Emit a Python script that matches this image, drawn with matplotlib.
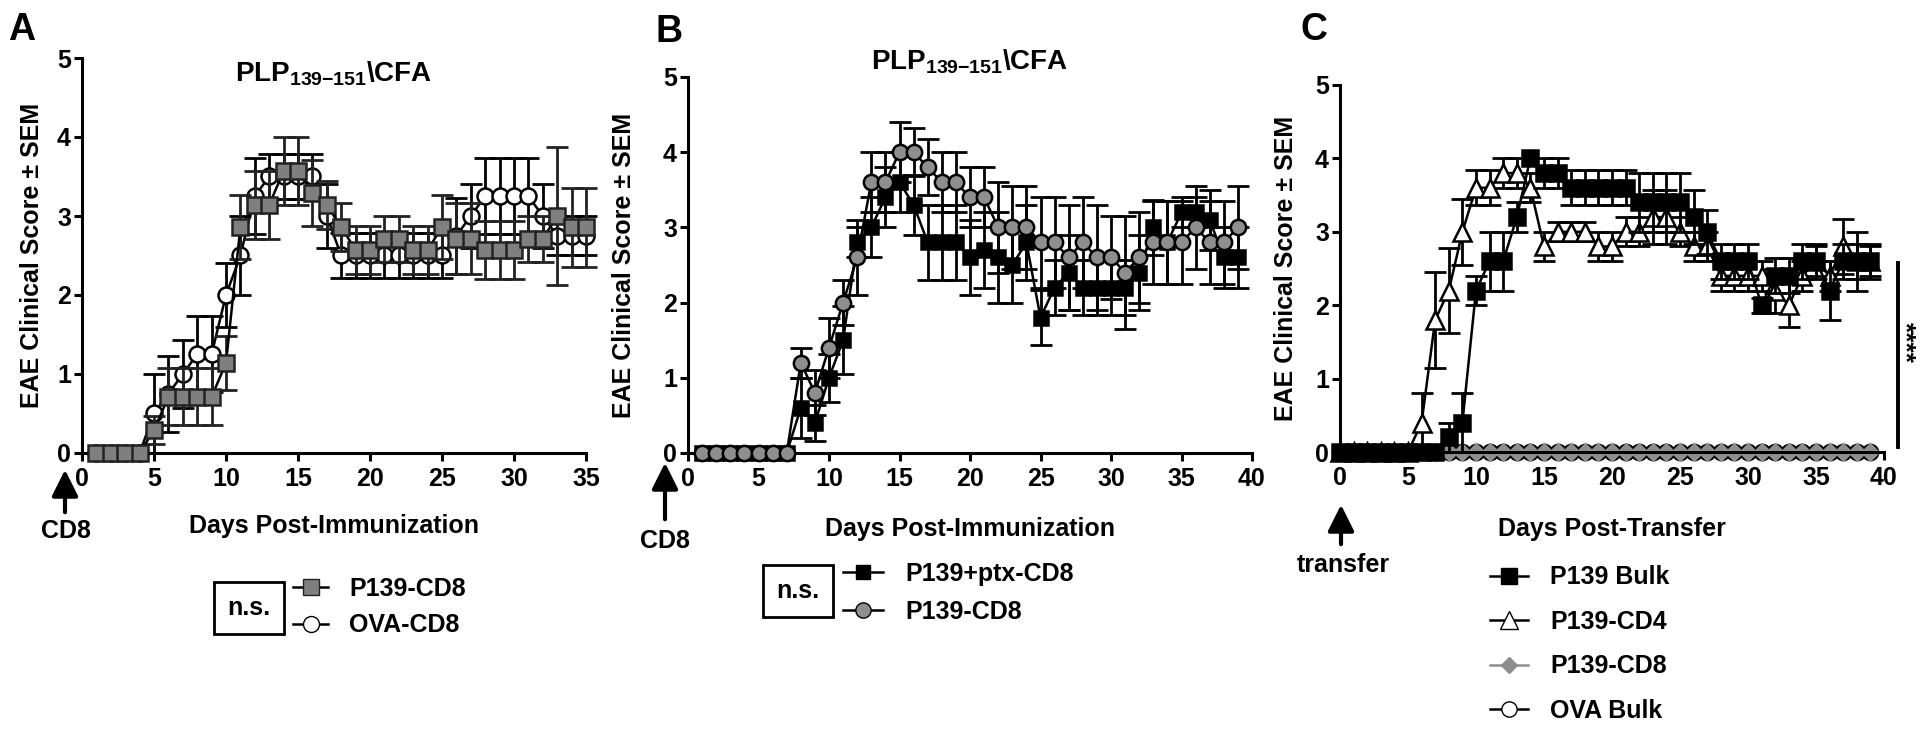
import matplotlib.pyplot as plt
from matplotlib.lines import Line2D

plt.rcParams['font.family'] = ['Liberation Sans', 'DejaVu Sans']
plt.rcParams['font.weight'] = 'bold'
plt.rcParams['axes.labelweight'] = 'bold'
plt.rcParams['mathtext.default'] = 'regular'

W, H = 1920, 738  # figure size in pixels

# ---------------- data ----------------
# panel A: PLP139-151/CFA, days 1-35
a_days = list(range(1, 36))
a_p139 = [0, 0, 0, 0, 0.29, 0.71, 0.71, 0.71, 0.71, 1.14, 2.86, 3.14, 3.14, 3.57, 3.57,
          3.29, 3.14, 2.86, 2.57, 2.57, 2.71, 2.71, 2.57, 2.57, 2.86, 2.71, 2.71, 2.57,
          2.57, 2.57, 2.71, 2.71, 3.0, 2.86, 2.86]
a_p139_sem = [0, 0, 0, 0, 0.18, 0.36, 0.36, 0.36, 0.36, 0.34, 0.4, 0.43, 0.43, 0.43, 0.43,
              0.42, 0.3, 0.3, 0.3, 0.3, 0.29, 0.29, 0.3, 0.3, 0.4, 0.45, 0.45, 0.37,
              0.37, 0.37, 0.29, 0.29, 0.87, 0.5, 0.5]
a_ova = [0, 0, 0, 0, 0.5, 0.75, 1.0, 1.25, 1.25, 2.0, 2.5, 3.25, 3.5, 3.5, 3.5, 3.5, 3.0,
         2.5, 2.5, 2.5, 2.5, 2.5, 2.5, 2.5, 2.5, 2.75, 3.0, 3.25, 3.25, 3.25, 3.25, 3.0,
         2.75, 2.75, 2.75]
a_ova_sem = [0, 0, 0, 0, 0.5, 0.48, 0.43, 0.48, 0.48, 0.41, 0.5, 0.48, 0.29, 0.29, 0.29,
             0.29, 0.41, 0.29, 0.29, 0.29, 0.29, 0.29, 0.29, 0.29, 0.29, 0.48, 0.41, 0.48,
             0.48, 0.48, 0.48, 0.41, 0.25, 0.25, 0.25]

# panel B: days 1-39
b_days = list(range(1, 40))
b_ptx = [0, 0, 0, 0, 0, 0, 0, 0.6, 0.4, 1.0, 1.5, 2.8, 3.0, 3.4, 3.6, 3.3, 2.8, 2.8, 2.8,
         2.6, 2.7, 2.6, 2.5, 2.8, 1.8, 2.2, 2.4, 2.2, 2.2, 2.2, 2.2, 2.4, 3.0, 2.8, 3.2,
         3.2, 3.1, 2.6, 2.6]
b_ptx_sem = [0, 0, 0, 0, 0, 0, 0, 0.4, 0.24, 0.32, 0.45, 0.2, 0.4, 0.4, 0.4, 0.4, 0.5,
             0.5, 0.5, 0.5, 0.5, 0.6, 0.5, 0.5, 0.37, 0.37, 0.5, 0.37, 0.37, 0.37, 0.37,
             0.5, 0.37, 0.55, 0.2, 0.2, 0.4, 0.4, 0.4]
b_p139 = [0, 0, 0, 0, 0, 0, 0, 1.2, 0.8, 1.4, 2.0, 2.6, 3.6, 3.6, 4.0, 4.0, 3.8, 3.6, 3.6,
          3.4, 3.4, 3.0, 3.0, 3.0, 2.8, 2.8, 2.6, 2.8, 2.6, 2.6, 2.4, 2.6, 2.8, 2.8, 2.8,
          3.0, 2.8, 2.8, 3.0]
b_p139_sem = [0, 0, 0, 0, 0, 0, 0, 0.2, 0.3, 0.4, 0.3, 0.5, 0.4, 0.4, 0.4, 0.32, 0.37,
              0.4, 0.4, 0.4, 0.4, 0.6, 0.55, 0.55, 0.6, 0.6, 0.7, 0.6, 0.7, 0.55, 0.75,
              0.6, 0.55, 0.55, 0.55, 0.55, 0.55, 0.55, 0.55]

# panel C: adoptive transfer, days 0-39
c_days = list(range(0, 40))
c_bulk = [0, 0, 0, 0, 0, 0, 0, 0, 0.2, 0.4, 2.2, 2.6, 2.6, 3.2, 4.0, 3.8, 3.8, 3.6, 3.6,
          3.6, 3.6, 3.6, 3.4, 3.4, 3.4, 3.4, 3.2, 3.0, 2.6, 2.6, 2.6, 2.0, 2.4, 2.4, 2.6,
          2.6, 2.2, 2.6, 2.6, 2.6]
c_bulk_sem = [0, 0, 0, 0, 0, 0, 0, 0, 0.2, 0.4, 0.2, 0.4, 0.4, 0.2, 0, 0.2, 0.2, 0.24,
              0.24, 0.24, 0.24, 0.24, 0.4, 0.4, 0.4, 0.4, 0.37, 0.3, 0.24, 0.24, 0.24,
              0.1, 0.24, 0.24, 0.24, 0.24, 0.4, 0.24, 0.24, 0.24]
c_cd4 = [0, 0, 0, 0, 0, 0, 0.4, 1.8, 2.2, 3.0, 3.6, 3.6, 3.8, 3.8, 3.6, 2.8, 3.0, 3.0,
         3.0, 2.8, 2.8, 3.0, 3.0, 3.2, 3.2, 3.0, 2.8, 2.8, 2.4, 2.4, 2.4, 2.4, 2.2, 2.0,
         2.4, 2.6, 2.4, 2.8, 2.6, 2.6]
c_cd4_sem = [0, 0, 0, 0, 0, 0, 0.4, 0.65, 0.58, 0.45, 0.24, 0.24, 0.2, 0.2, 0.2, 0.2,
             0.13, 0.13, 0.13, 0.2, 0.2, 0.2, 0.2, 0.37, 0.37, 0.2, 0.2, 0.2, 0.2, 0.2,
             0.2, 0.2, 0.3, 0.3, 0.2, 0.2, 0.2, 0.37, 0.4, 0.2]
c_cd8 = [0, 0, 0, 0, 0, 0, 0, 0, 0, 0, 0, 0, 0, 0, 0, 0, 0, 0, 0, 0,
         0, 0, 0, 0, 0, 0, 0, 0, 0, 0, 0, 0, 0, 0, 0, 0, 0, 0, 0, 0]
c_ova = [0, 0, 0, 0, 0, 0, 0, 0, 0, 0, 0, 0, 0, 0, 0, 0, 0, 0, 0, 0,
         0, 0, 0, 0, 0, 0, 0, 0, 0, 0, 0, 0, 0, 0, 0, 0, 0, 0, 0, 0]

GRAY = '#7f7f7f'
LGRAY = '#8e8e8e'
FS = 18


def fp(x, y):
    # pixel position measured from the top-left -> figure fraction
    return x / W, 1 - y / H


def style(ax, xmax):
    ax.set_xlim(0, xmax)
    ax.set_ylim(0, 5)
    ax.set_xticks(range(0, xmax + 1, 5))
    ax.set_yticks(range(0, 6))
    for s in ['top', 'right']:
        ax.spines[s].set_visible(False)
    for s in ['left', 'bottom']:
        ax.spines[s].set_linewidth(2.2)
    ax.tick_params(direction='out', length=6, width=2.2, labelsize=FS)
    ax.tick_params(axis='x', pad=4)
    ax.tick_params(axis='y', pad=2)
    ax.set_facecolor('none')
    ax.set_ylabel('EAE Clinical Score ± SEM', fontsize=FS, va='center')


def series(ax, x, y, e, marker, ms, mfc, mec='black', lc='black', z=3):
    xs = [a for a, s in zip(x, e) if s > 0]
    ys = [b for b, s in zip(y, e) if s > 0]
    es = [s for s in e if s > 0]
    if es:
        cont = ax.errorbar(xs, ys, yerr=es, fmt='none', ecolor=mec, elinewidth=2,
                           capsize=8, capthick=2, zorder=z - 0.5)
        for art in list(cont.lines[1]) + list(cont.lines[2]):
            art.set_clip_on(False)
    ax.plot(x, y, color=lc, lw=1.8, marker=marker, ms=ms, mfc=mfc, mec=mec, mew=1.8,
            zorder=z, clip_on=False)


def arrow(x, y_tip, y_base):
    fig.add_artist(plt.matplotlib.patches.FancyArrowPatch(
        fp(x, y_base), fp(x, y_tip), transform=fig.transFigure, arrowstyle='-|>',
        mutation_scale=40, lw=3, color='black'))


fig = plt.figure(figsize=(W / 100, H / 100), dpi=100)

# ---------------- panel A ----------------
axA = fig.add_axes([82 / W, 1 - 453 / H, 504 / W, 395 / H])
style(axA, 35)
series(axA, a_days, a_ova, a_ova_sem, 'o', 11.5, 'white', z=3)
series(axA, a_days, a_p139, a_p139_sem, 's', 12, GRAY, mec='#222222', z=4)
axA.yaxis.set_label_coords((32 - 82) / 504, 0.5)

# ---------------- panel B ----------------
axB = fig.add_axes([688 / W, 1 - 453 / H, 564 / W, 376 / H])
style(axB, 40)
series(axB, b_days, b_ptx, b_ptx_sem, 's', 10.5, 'black', z=3)
series(axB, b_days, b_p139, b_p139_sem, 'o', 11, LGRAY, z=4)
axB.yaxis.set_label_coords((624 - 688) / 564, 0.5)

# ---------------- panel C ----------------
axC = fig.add_axes([1340 / W, 1 - 452 / H, 544 / W, 367 / H])
style(axC, 40)
series(axC, c_days, c_ova, c_ova, 'o', 11, 'white', z=2)
series(axC, c_days, c_cd8, c_cd8, 'D', 8.5, LGRAY, mec=LGRAY, lc=LGRAY, z=2.5)
series(axC, c_days, c_cd4, c_cd4_sem, '^', 12.5, 'white', z=3)
series(axC, c_days, c_bulk, c_bulk_sem, 's', 11, 'black', z=4)
axC.yaxis.set_label_coords((1286 - 1340) / 544, 0.5)

# significance bar
axC.plot([41, 41], [0.07, 2.58], color='black', lw=2.8, clip_on=False)
fig.text(*fp(1905, 343), '****', rotation=270, ha='center', va='center', fontsize=19)

# ---------------- titles, labels, arrows ----------------
fig.text(*fp(8, 40), 'A', fontsize=27, va='baseline', ha='left')
fig.text(*fp(655, 42), 'B', fontsize=27, va='baseline', ha='left')
fig.text(*fp(1300, 40), 'C', fontsize=27, va='baseline', ha='left')

title = 'PLP$_{139{-}151}$\\CFA'
fig.text(*fp(334, 82), title, fontsize=20, ha='center', va='baseline')
fig.text(*fp(970, 70), title, fontsize=20, ha='center', va='baseline')

fig.text(*fp(334, 533), 'Days Post-Immunization', fontsize=FS, ha='center', va='baseline')
fig.text(*fp(970, 536), 'Days Post-Immunization', fontsize=FS, ha='center', va='baseline')
fig.text(*fp(1612, 536), 'Days Post-Transfer', fontsize=FS, ha='center', va='baseline')

arrow(65, 467, 515)
fig.text(*fp(66, 538), 'CD8', fontsize=FS, ha='center', va='baseline')
arrow(665, 460, 522)
fig.text(*fp(665, 548), 'CD8', fontsize=FS, ha='center', va='baseline')
arrow(1341, 502, 547)
fig.text(*fp(1343, 572), 'transfer', fontsize=FS, ha='center', va='baseline')

# ---------------- legends ----------------
box = dict(boxstyle='square,pad=0.55', fc='white', ec='black', lw=2)
fig.text(*fp(249, 608), 'n.s.', fontsize=FS, ha='center', va='center', bbox=box)
fig.text(*fp(798, 591), 'n.s.', fontsize=FS, ha='center', va='center', bbox=box)

hA = [Line2D([], [], color='black', lw=1.8, marker='s', ms=12, mfc=GRAY, mec='#222222'),
      Line2D([], [], color='black', lw=1.8, marker='o', ms=11.5, mfc='white', mec='black')]
axA.legend(hA, ['P139-CD8', 'OVA-CD8'], loc='center left', bbox_to_anchor=fp(293, 607),
           bbox_transform=fig.transFigure, frameon=False, fontsize=FS, handlelength=1.4,
           handletextpad=0.85, labelspacing=0.5, borderpad=0, borderaxespad=0)

hB = [Line2D([], [], color='black', lw=1.8, marker='s', ms=10.5, mfc='black', mec='black'),
      Line2D([], [], color='black', lw=1.8, marker='o', ms=11, mfc=LGRAY, mec='black')]
axB.legend(hB, ['P139+ptx-CD8', 'P139-CD8'], loc='center left', bbox_to_anchor=fp(843, 593),
           bbox_transform=fig.transFigure, frameon=False, fontsize=FS, handlelength=1.6,
           handletextpad=0.9, labelspacing=0.55, borderpad=0, borderaxespad=0)

hC = [Line2D([], [], color='black', lw=1.8, marker='s', ms=11, mfc='black', mec='black'),
      Line2D([], [], color='black', lw=1.8, marker='^', ms=12.5, mfc='white', mec='black'),
      Line2D([], [], color=LGRAY, lw=1.8, marker='D', ms=8.5, mfc=LGRAY, mec=LGRAY),
      Line2D([], [], color='black', lw=1.8, marker='o', ms=11, mfc='white', mec='black')]
axC.legend(hC, ['P139 Bulk', 'P139-CD4', 'P139-CD8', 'OVA Bulk'], loc='center left',
           bbox_to_anchor=fp(1490, 644), bbox_transform=fig.transFigure, frameon=False,
           fontsize=FS, handlelength=1.5, handletextpad=0.9, labelspacing=0.82,
           borderpad=0, borderaxespad=0)

fig.savefig('out.png', dpi=100)
